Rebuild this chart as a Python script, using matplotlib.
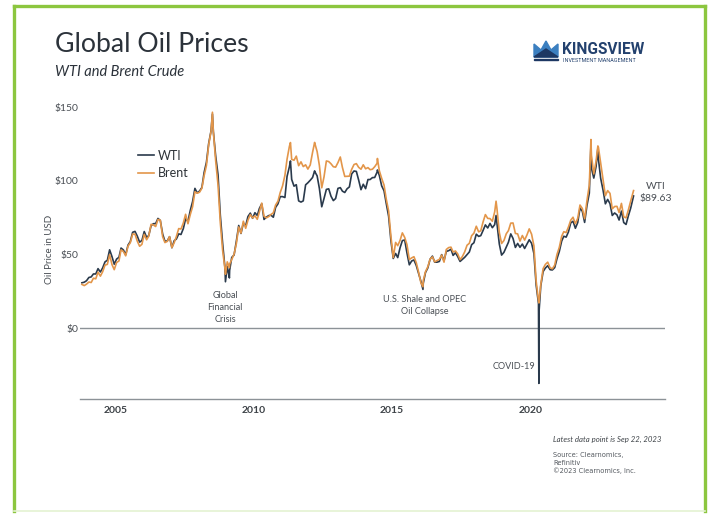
import matplotlib
matplotlib.use("Agg")
import matplotlib.pyplot as plt
import matplotlib.dates as mdates
from matplotlib.patches import Rectangle, Polygon
from matplotlib.lines import Line2D
import pandas as pd

# monthly averages, Oct 2003 .. Aug 2023 (USD / barrel)
wti_monthly = [
    30.7, 31.1, 32.1,                                                        # 2003
    34.3, 34.7, 36.7, 36.7, 40.3, 38.0, 40.8, 44.9, 46.0, 53.1, 48.5, 43.3,  # 2004
    46.8, 48.0, 54.3, 53.0, 49.8, 56.3, 58.7, 65.0, 65.6, 62.4, 58.3, 59.4,  # 2005
    65.5, 61.6, 62.7, 69.4, 70.8, 70.9, 74.4, 73.0, 63.8, 58.9, 59.1, 62.0,  # 2006
    54.5, 59.3, 60.4, 63.9, 63.5, 67.5, 74.1, 72.4, 79.9, 85.8, 94.8, 91.7,  # 2007
    93.0, 95.4, 105.5, 112.6, 125.4, 133.9, 133.4, 116.7, 104.1, 76.6, 57.3, 41.1,  # 2008
    41.7, 39.1, 47.9, 49.6, 59.0, 69.6, 64.2, 71.1, 69.4, 75.7, 78.0, 74.5,  # 2009
    78.3, 76.4, 81.2, 84.3, 73.7, 75.3, 76.3, 76.6, 75.2, 81.9, 84.3, 89.2,  # 2010
    89.2, 88.6, 102.9, 109.5, 100.9, 96.3, 97.3, 86.3, 85.5, 86.3, 97.2, 98.6,  # 2011
    100.3, 102.2, 106.2, 103.3, 94.7, 82.3, 87.9, 94.1, 94.5, 89.5, 86.5, 87.9,  # 2012
    94.8, 95.3, 92.9, 92.0, 94.5, 95.8, 104.6, 106.6, 106.3, 100.5, 93.9, 97.6,  # 2013
    94.6, 100.8, 100.8, 102.1, 102.2, 105.8, 103.6, 96.5, 93.2, 84.4, 75.8, 59.3,  # 2014
    47.2, 50.6, 47.8, 54.5, 59.3, 59.8, 50.9, 42.9, 45.5, 46.2, 42.4, 37.2,  # 2015
    31.7, 30.3, 37.6, 40.8, 46.7, 48.8, 44.7, 44.7, 45.2, 49.8, 45.7, 52.0,  # 2016
    52.5, 53.5, 49.3, 51.1, 48.5, 45.2, 46.6, 48.0, 49.8, 51.6, 56.6, 57.9,  # 2017
    63.7, 62.2, 62.7, 66.3, 70.0, 67.9, 71.0, 68.1, 70.2, 70.8, 57.0, 49.5,  # 2018
    51.4, 55.0, 58.2, 63.9, 60.8, 54.7, 57.4, 54.8, 57.0, 54.0, 57.0, 59.9,  # 2019
    57.5, 50.5, 29.2, 16.6, 28.5, 38.3, 40.7, 42.3, 39.6, 39.4, 41.0, 47.0,  # 2020
    52.0, 59.0, 62.3, 61.7, 65.2, 71.4, 72.5, 67.7, 71.6, 81.5, 79.2, 71.7,  # 2021
    83.2, 91.6, 108.5, 101.8, 109.6, 114.8, 101.6, 93.7, 84.3, 87.3, 84.4, 76.4,  # 2022
    78.1, 76.8, 73.3, 79.4, 71.6, 70.3, 76.1, 81.4,                          # 2023
]

brent_monthly = [
    29.6, 28.8, 29.8,
    31.2, 30.9, 33.8, 33.4, 37.9, 35.2, 38.2, 42.7, 43.2, 49.8, 43.1, 39.6,
    44.5, 45.5, 53.1, 51.9, 49.0, 55.6, 57.9, 63.8, 63.7, 59.0, 55.5, 56.8,
    63.6, 59.9, 62.3, 70.4, 70.0, 68.9, 73.7, 73.2, 62.0, 58.0, 58.8, 62.0,
    54.6, 58.0, 62.1, 67.5, 67.2, 71.3, 77.2, 70.8, 77.1, 82.3, 92.5, 91.5,
    92.2, 94.9, 103.3, 110.4, 124.6, 133.5, 133.5, 113.4, 97.0, 71.6, 52.5, 40.4,
    44.9, 43.4, 46.5, 50.2, 57.3, 68.6, 64.4, 72.5, 67.7, 73.2, 77.0, 74.7,
    76.2, 73.8, 78.8, 84.8, 75.9, 74.8, 75.6, 77.1, 78.2, 83.5, 86.1, 92.0,
    96.5, 103.7, 114.6, 123.3, 114.5, 113.9, 116.7, 110.2, 112.8, 109.6, 110.8, 107.9,
    110.7, 119.3, 125.5, 119.8, 110.3, 95.2, 102.6, 113.4, 113.0, 111.5, 109.5, 109.2,
    112.3, 116.1, 109.0, 102.9, 103.0, 103.1, 107.7, 111.0, 111.6, 109.1, 107.8, 110.8,
    108.1, 108.9, 107.5, 107.8, 109.5, 111.8, 106.8, 101.6, 97.1, 87.4, 79.4, 62.3,
    47.8, 58.1, 55.9, 59.5, 64.6, 61.5, 56.6, 46.5, 47.6, 48.4, 44.3, 38.0,
    30.7, 32.2, 38.2, 41.6, 46.7, 48.3, 44.9, 45.8, 46.6, 49.5, 44.7, 53.3,
    54.6, 54.9, 51.6, 52.3, 50.3, 46.4, 48.5, 51.7, 56.2, 57.5, 62.7, 64.4,
    69.1, 65.3, 66.0, 72.1, 77.0, 74.4, 74.3, 72.5, 78.9, 81.0, 64.8, 57.4,
    59.4, 64.0, 66.1, 71.2, 71.3, 64.2, 63.9, 59.0, 62.8, 59.7, 63.2, 67.3,
    63.7, 55.7, 32.0, 18.4, 29.4, 40.3, 43.2, 44.7, 40.9, 40.2, 42.7, 49.9,
    54.8, 62.3, 65.4, 64.8, 68.5, 73.2, 75.2, 70.8, 74.5, 83.5, 81.1, 74.2,
    86.5, 97.1, 117.3, 104.6, 113.3, 122.7, 111.9, 100.5, 89.8, 93.3, 91.4, 80.9,
    82.5, 82.6, 78.4, 84.6, 75.5, 74.8, 80.1, 86.2,
]

# single-day extremes visible in the chart
spike_dates = ["2008-07-03", "2008-12-22", "2009-02-12", "2011-04-29", "2012-03-13",
               "2014-06-20", "2016-02-11", "2018-10-03", "2020-04-20", "2020-04-21",
               "2022-03-08", "2022-06-08", "2023-09-22"]
spike_wti = [145.3, 31.4, 34.0, 113.4, 106.7, 107.3, 26.2, 76.4, -37.6, 10.0, 123.7, 122.1, 89.63]
spike_brent = [146.5, 36.5, 41.0, 125.9, 126.0, 115.1, 28.0, 86.1, 17.4, 17.0, 128.0, 123.6, 93.3]

month_dates = pd.date_range("2003-10-01", periods=len(wti_monthly), freq="MS") + pd.Timedelta(days=14)
df = pd.concat([
    pd.DataFrame({"wti": wti_monthly, "brent": brent_monthly}, index=month_dates),
    pd.DataFrame({"wti": spike_wti, "brent": spike_brent}, index=pd.to_datetime(spike_dates)),
]).sort_index()

wti_col = "#2a3a4c"
brent_col = "#e3964a"
axis_col = "#8c9297"
text_col = "#4a4f55"
frame_col = "#8cc63f"

plt.rcParams["font.family"] = ["Lato", "DejaVu Sans"]

fig = plt.figure(figsize=(7.1, 5.14), dpi=100)


def fx(px):
    return px / 710


def fy(py):
    return 1 - py / 514


# green frame (bottom edge is only faint in the original)
for xs, ys, c, w in [([14, 14], [6, 511], frame_col, 2.4),
                     ([14, 705], [6, 6], frame_col, 2.4),
                     ([705, 705], [6, 511], frame_col, 2.4),
                     ([14, 705], [511, 511], "#e4f2d2", 1.2)]:
    fig.lines.append(Line2D([fx(x) for x in xs], [fy(y) for y in ys], transform=fig.transFigure,
                            color=c, lw=w))

ax = fig.add_axes([fx(80), fy(399), 585 / 710, 299 / 514])
ax.plot(df.index, df["wti"], color=wti_col, lw=1.2, label="WTI")
ax.plot(df.index, df["brent"], color=brent_col, lw=1.2, label="Brent")

ax.set_xlim(pd.Timestamp("2003-09-20"), pd.Timestamp("2024-11-10"))
ax.set_ylim(-48.2, 154.8)
ax.axhline(0, color=axis_col, lw=1.0, zorder=0)

for s in ["top", "right", "left"]:
    ax.spines[s].set_visible(False)
ax.spines["bottom"].set_color(axis_col)
ax.spines["bottom"].set_linewidth(1.0)

ax.set_yticks([0, 50, 100, 150])
ax.set_yticklabels(["$0", "$50", "$100", "$150"])
ax.xaxis.set_major_locator(mdates.YearLocator(5))
ax.xaxis.set_major_formatter(mdates.DateFormatter("%Y"))
ax.tick_params(axis="y", length=0, pad=1, labelsize=7.5, labelcolor=text_col)
ax.tick_params(axis="x", length=0, pad=5, labelsize=7.5, labelcolor="#3d4247")
for lab in ax.get_xticklabels():
    lab.set_fontweight("bold")
ax.set_ylabel("Oil Price in USD", fontsize=7, color=text_col)
ax.yaxis.set_label_coords(-0.045, 0.5)

leg = ax.legend(loc="upper left", bbox_to_anchor=(0.09, 0.85), frameon=False, fontsize=9,
                handlelength=1.3, handletextpad=0.3, labelspacing=0.45, borderaxespad=0)
for t in leg.get_texts():
    t.set_color("#2e3338")

ann = dict(fontsize=6.6, color=text_col, va="center", linespacing=1.45)
ax.text(pd.Timestamp("2008-12-20"), 14, "Global\nFinancial\nCrisis", ha="center", **ann)
ax.text(pd.Timestamp("2016-03-01"), 15, "U.S. Shale and OPEC\nOil Collapse", ha="center", **ann)
ax.text(pd.Timestamp("2020-03-05"), -26, "COVID-19", ha="right", **ann)
ax.text(pd.Timestamp("2024-07-10"), 92, "WTI\n$89.63", fontsize=7.5, color=text_col,
        ha="center", va="center", linespacing=1.5)

# titles
fig.text(fx(55), fy(44), "Global Oil Prices", fontsize=19.2, color="#2b323a", va="center")
fig.text(fx(55), fy(72), "WTI and Brent Crude", fontsize=10.5, color="#2b323a",
         style="italic", va="center")

# logo
crown = [(534, 57), (534, 44), (541, 50), (546, 41), (551, 50), (558, 44), (558, 57)]
inner = [(534, 57), (546, 49), (558, 57)]
fig.patches.append(Polygon([(fx(x), fy(y)) for x, y in crown], closed=True,
                           transform=fig.transFigure, color="#3b7fc0"))
fig.patches.append(Polygon([(fx(x), fy(y)) for x, y in inner], closed=True,
                           transform=fig.transFigure, color="#1d3763"))
fig.patches.append(Rectangle((fx(534), fy(60)), 24 / 710, 1.5 / 514,
                             transform=fig.transFigure, color="#1d3763"))
fig.text(fx(562), fy(50), "KINGSVIEW", fontsize=11.2, fontweight="bold", color="#23416e",
         va="center", family="Roboto")
fig.text(fx(563), fy(61), "INVESTMENT MANAGEMENT", fontsize=3.9, color="#23416e",
         va="center", family="Roboto")

# footnotes
fig.text(fx(553), fy(439), "Latest data point is Sep 22, 2023", fontsize=5.6,
         style="italic", color="#3d4247", va="center")
fig.text(fx(553), fy(463), "Source: Clearnomics,\nRefinitiv\n\u00a92023 Clearnomics, Inc.",
         fontsize=4.8, color="#555a60", va="center", linespacing=1.35, family="DejaVu Sans")

fig.savefig("out.png", dpi=100)
